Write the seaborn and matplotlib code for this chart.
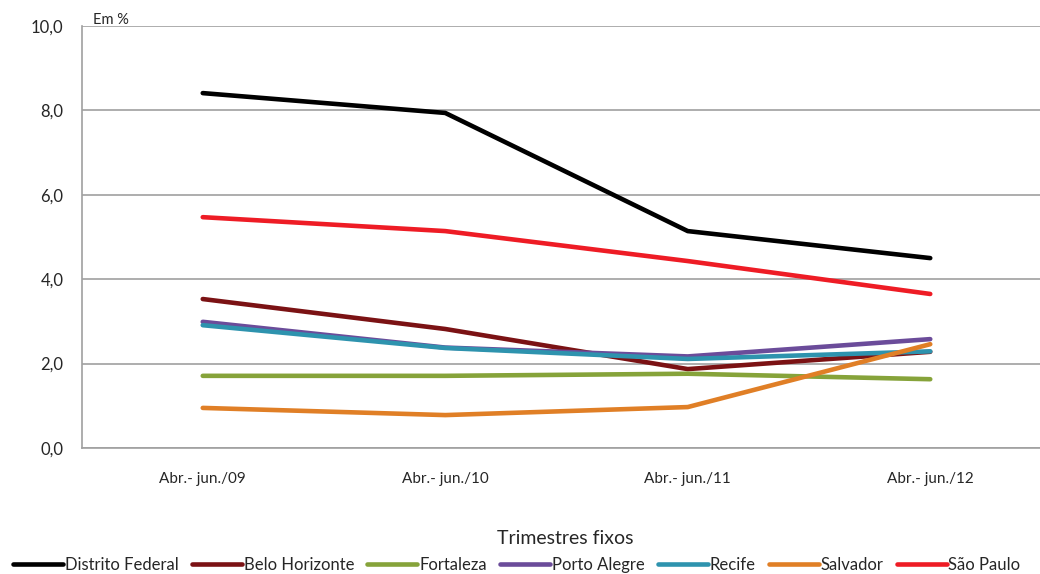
import pandas as pd
import matplotlib
matplotlib.use("Agg")
import matplotlib.pyplot as plt
import seaborn as sns

# Data
periods = ["Abr.- jun./09", "Abr.- jun./10", "Abr.- jun./11", "Abr.- jun./12"]
distrito_federal = [8.41, 7.94, 5.14, 4.50]
belo_horizonte = [3.53, 2.82, 1.87, 2.28]
fortaleza = [1.71, 1.71, 1.76, 1.63]
porto_alegre = [2.99, 2.38, 2.17, 2.58]
recife = [2.91, 2.37, 2.11, 2.29]
salvador = [0.95, 0.78, 0.97, 2.46]
sao_paulo = [5.47, 5.14, 4.43, 3.65]

series = {
    "Distrito Federal": distrito_federal,
    "Belo Horizonte": belo_horizonte,
    "Fortaleza": fortaleza,
    "Porto Alegre": porto_alegre,
    "Recife": recife,
    "Salvador": salvador,
    "São Paulo": sao_paulo,
}
colors = ["#000000", "#7B1214", "#86A33A", "#6B4C9A", "#2E93AE", "#E07F26", "#EE1C25"]
yticks = [0, 2, 4, 6, 8, 10]
ytick_labels = ["0,0", "2,0", "4,0", "6,0", "8,0", "10,0"]

rows = []
for name, vals in series.items():
    for i, v in enumerate(vals):
        rows.append({"cidade": name, "pos": i, "valor": v})
df = pd.DataFrame(rows)

sns.set_style("white")
plt.rcParams["font.family"] = ["Lato", "DejaVu Sans"]

fig = plt.figure(figsize=(10.4, 5.74), dpi=100)
ax = fig.add_axes([81.5 / 1040, 1 - 448 / 574, 970 / 1040, 422 / 574])

sns.lineplot(data=df, x="pos", y="valor", hue="cidade", palette=colors,
             linewidth=3.3, ax=ax, legend=False, solid_capstyle="round")

ax.set_xlim(-0.5, 3.5)
ax.set_ylim(0, 10)
ax.set_yticks(yticks)
ax.set_yticklabels(ytick_labels, fontsize=12)
ax.set_xticks(range(len(periods)))
ax.set_xticklabels(periods, fontsize=11)
ax.set_xticks([-0.5, 0.5, 1.5, 2.5, 3.5], minor=True)
ax.tick_params(axis="x", which="major", length=0, pad=17)
ax.tick_params(axis="x", which="minor", length=7, color="#A0A0A0", width=1.2)
ax.tick_params(axis="y", length=7, color="#A0A0A0", width=1.2, pad=6)
ax.grid(axis="y", color="#A0A0A0", linewidth=1.2)
ax.set_axisbelow(True)
for side in ["top", "right"]:
    ax.spines[side].set_visible(False)
for side in ["left", "bottom"]:
    ax.spines[side].set_color("#A0A0A0")
    ax.spines[side].set_linewidth(1.2)
ax.set_xlabel("")
ax.set_ylabel("")

fig.text(93 / 1040, 1 - 20 / 574, "Em %", fontsize=10.5, va="center")
fig.text(565 / 1040, 1 - 538 / 574, "Trimestres fixos", fontsize=14,
         ha="center", va="center")

handles = [plt.Line2D([], [], color=c, linewidth=3.3) for c in colors]
fig.legend(handles, list(series.keys()), loc="center", ncol=7,
           bbox_to_anchor=(0.497, 1 - 565 / 574), frameon=False, fontsize=12,
           handlelength=3.0, handletextpad=0.1, columnspacing=0.8,
           borderpad=0)

fig.savefig("out.png", dpi=100)
